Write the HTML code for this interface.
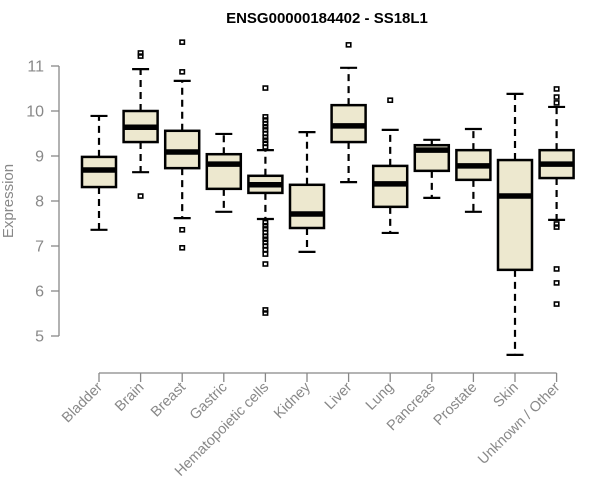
<!DOCTYPE html>
<html><head><meta charset="utf-8"><style>
html,body{margin:0;padding:0;background:#fff;}
svg{display:block;font-family:"Liberation Sans",Arial,sans-serif;}
</style></head><body>
<svg id="chart" width="600" height="500" viewBox="0 0 600 500">
<text x="327" y="23" text-anchor="middle" font-size="15" font-weight="bold" fill="#000">ENSG00000184402 - SS18L1</text>
<text transform="translate(13,201) rotate(-90)" text-anchor="middle" font-size="15" fill="#888">Expression</text>
<g id="yaxis"></g>
<g id="xaxis"></g>
<g id="boxes"></g>
</svg>
<script>
const categories = ["Bladder","Brain","Breast","Gastric","Hematopoietic cells","Kidney","Liver","Lung","Pancreas","Prostate","Skin","Unknown / Other"];
const whiskerLow = [7.36,8.64,7.62,7.76,7.6,6.87,8.42,7.29,8.07,7.76,4.58,7.58];
const q1 = [8.31,9.31,8.73,8.27,8.18,7.4,9.31,7.87,8.67,8.47,6.47,8.51];
const median = [8.69,9.64,9.09,8.82,8.36,7.71,9.67,8.38,9.13,8.78,8.11,8.82];
const q3 = [8.98,10.0,9.56,9.04,8.56,8.36,10.13,8.78,9.24,9.13,8.91,9.13];
const whiskerHigh = [9.89,10.93,10.67,9.49,9.13,9.53,10.96,9.58,9.36,9.6,10.38,10.09];
const outliers = [
  [],
  [11.29,11.22,8.11],
  [11.53,10.87,7.36,6.96],
  [],
  [10.51,9.87,9.8,9.72,9.65,9.58,9.5,9.42,9.35,9.28,9.2,7.52,7.45,7.38,7.3,7.22,7.15,7.08,7.0,6.92,6.82,6.6,5.58,5.51],
  [],
  [11.47],
  [10.24],
  [],
  [],
  [],
  [10.49,10.31,10.18,7.49,7.42,6.49,6.18,5.71]
];
const yTicks = [5,6,7,8,9,10,11];

const NS = "http://www.w3.org/2000/svg";
function y(v){ return 66 + (11 - v) * 45; }
function x(i){ return 99 + i * 41.6; }
function mk(tag, attrs, parent){
  const e = document.createElementNS(NS, tag);
  for (const k in attrs) e.setAttribute(k, attrs[k]);
  parent.appendChild(e);
  return e;
}
const ya = document.getElementById('yaxis');
const xa = document.getElementById('xaxis');
const bx = document.getElementById('boxes');

const yl = mk('line', {x1:59, x2:59, y1:y(11), y2:y(5), stroke:'#888', 'stroke-width':1.3}, ya);


yTicks.forEach(t => {
  const tk = mk('line', {x1:51, x2:59, y1:y(t), y2:y(t), stroke:'#888', 'stroke-width':1.3}, ya);
  
  
  const lb = mk('text', {x:44, y:y(t)+5.5, 'text-anchor':'end', 'font-size':16, fill:'#888'}, ya);
  lb.textContent = t;
  
  
});

const xl = mk('line', {x1:x(0), x2:x(categories.length-1), y1:373, y2:373, stroke:'#888', 'stroke-width':1.3}, xa);


categories.forEach((c, i) => {
  const tk = mk('line', {x1:x(i), x2:x(i), y1:373, y2:382, stroke:'#888', 'stroke-width':1.3}, xa);
  
  
  const lb = mk('text', {transform:'translate(' + (x(i)+4) + ',388) rotate(-45)', 'text-anchor':'end', 'font-size':14.5, fill:'#888'}, xa);
  lb.textContent = c;
  
  

  const g = mk('g', {}, bx);
  
  
  const cx = x(i), hw = 17, cap = 8.5;
  const dash = {stroke:'#000', 'stroke-width':2.2, 'stroke-dasharray':'7,5'};
  mk('line', Object.assign({x1:cx, x2:cx, y1:y(q3[i]), y2:y(whiskerHigh[i])}, dash), g);
  mk('line', Object.assign({x1:cx, x2:cx, y1:y(q1[i]), y2:y(whiskerLow[i])}, dash), g);
  mk('line', {x1:cx-cap, x2:cx+cap, y1:y(whiskerHigh[i]), y2:y(whiskerHigh[i]), stroke:'#000', 'stroke-width':2.2}, g);
  mk('line', {x1:cx-cap, x2:cx+cap, y1:y(whiskerLow[i]), y2:y(whiskerLow[i]), stroke:'#000', 'stroke-width':2.2}, g);
  mk('rect', {x:cx-hw, y:y(q3[i]), width:hw*2, height:y(q1[i])-y(q3[i]), fill:'#ede8cf', stroke:'#000', 'stroke-width':2.5}, g);
  mk('line', {x1:cx-hw, x2:cx+hw, y1:y(median[i]), y2:y(median[i]), stroke:'#000', 'stroke-width':5.5}, g);
  outliers[i].forEach(v => {
    mk('rect', {x:cx-2.2, y:y(v)-2, width:4.4, height:4, fill:'none', stroke:'#000', 'stroke-width':1.6}, g);
  });
});
</script>
</body></html>
